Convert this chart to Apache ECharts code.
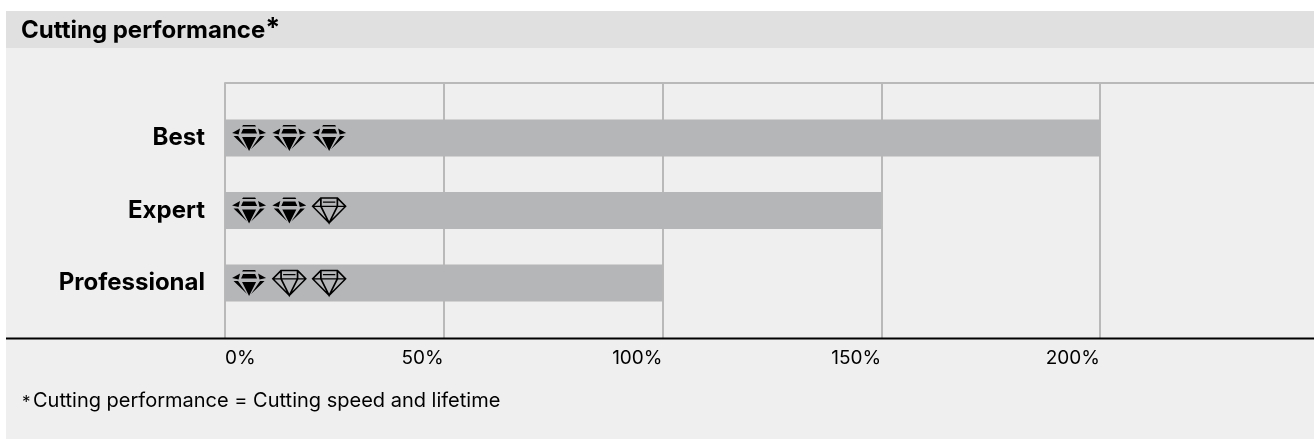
<!DOCTYPE html>
<html>
<head>
<meta charset="utf-8">
<style>html,body{margin:0;padding:0;background:#fff}#c{width:1314px;height:439px}</style>
<script src="https://cdn.jsdelivr.net/npm/echarts@6/dist/echarts.min.js"></script>
</head>
<body>
<div id="c"></div>
<script>
const categories = ['Best', 'Expert', 'Professional'];
const performance = [200, 150, 100];
const tickValues = [0, 50, 100, 150, 200];
const filledIcons = [[5.5, 'Best'], [14.7, 'Best'], [23.8, 'Best'], [5.5, 'Expert'], [14.7, 'Expert'], [5.5, 'Professional']];
const outlineIcons = [[23.8, 'Expert'], [14.7, 'Professional'], [23.8, 'Professional']];
const titleText = 'Cutting performance';
const footnoteText = 'Cutting performance = Cutting speed and lifetime';

const FONT = 'Inter, sans-serif';
const FILLED = 'path://M11 0L23 0L24 1.5L10 1.5Z M11 4L23 4L25 8.5L9 8.5Z M8 3.5L6.5 9.5L0 8Z M26 3.5L34 8L27.5 9.5Z M10 12L24 12L17 26Z M1.5 11L6 11L15 24Z M28 11L32.5 11L19 24Z';
const OUTLINE = 'path://M9 1L25 1L33 9L17 25L1 9Z M1 9L33 9 M11 5L23 5 M9 1L9 9L17 25L25 9L25 1';

const chart = echarts.init(document.getElementById('c'), null, {renderer: 'canvas'});
chart.setOption({
  animation: false,
  title: {
    left: 21, top: 15, padding: 0,
    text: '{t|' + titleText + '}{s|*}',
    textStyle: {
      rich: {
        t: {fontFamily: FONT, fontWeight: 700, fontSize: 24, color: '#000'},
        s: {fontFamily: FONT, fontWeight: 700, fontSize: 27, color: '#000', verticalAlign: 'top', padding: [0, 0, 5, 0]}
      }
    }
  },
  graphic: [
    {type: 'rect', silent: true, z: -10, shape: {x: 6, y: 48, width: 1308, height: 391}, style: {fill: '#efefef'}},
    {type: 'rect', silent: true, z: -10, shape: {x: 6, y: 11, width: 1308, height: 37}, style: {fill: '#e0e0e0'}},
    {type: 'line', silent: true, z: 10, shape: {x1: 6, y1: 338.5, x2: 1314, y2: 338.5}, style: {stroke: '#000', lineWidth: 2}},
    {type: 'text', silent: true, x: 22, y: 394, style: {text: '*', fontFamily: FONT, fontSize: 17, fill: '#000'}},
    {type: 'text', silent: true, x: 33, y: 391, style: {text: footnoteText, fontFamily: FONT, fontSize: 20, fill: '#000'}}
  ],
  grid: [
    {left: 225, top: 83, width: 1093.75, height: 255, outerBoundsMode: 'none'},
    {left: 225, top: 101.75, width: 1093.75, height: 217.5, outerBoundsMode: 'none'}
  ],
  xAxis: [
    {
      type: 'value', gridIndex: 0, position: 'bottom', min: 0, max: 250, interval: 50,
      axisLine: {show: false}, axisTick: {show: false},
      splitLine: {show: true, lineStyle: {color: '#b9b9b9', width: 2}},
      axisLabel: {
        customValues: tickValues, align: 'right', alignMinLabel: 'left', margin: 11,
        color: '#000', fontFamily: FONT, fontSize: 19,
        formatter: v => v + '%'
      }
    },
    {
      type: 'value', gridIndex: 1, min: 0, max: 250,
      axisLine: {show: false}, axisTick: {show: false}, axisLabel: {show: false}, splitLine: {show: false}
    },
    {
      type: 'value', gridIndex: 0, position: 'top', min: 0, max: 250,
      axisLine: {show: true, lineStyle: {color: '#b9b9b9', width: 2}},
      axisTick: {show: false}, axisLabel: {show: false}, splitLine: {show: false}
    }
  ],
  yAxis: [
    {type: 'value', gridIndex: 0, show: false, min: 0, max: 1, splitLine: {show: false}},
    {
      type: 'category', gridIndex: 1, data: categories, inverse: true,
      axisLine: {show: false}, axisTick: {show: false},
      axisLabel: {margin: 20, color: '#000', fontFamily: FONT, fontWeight: 700, fontSize: 24}
    }
  ],
  series: [
    {
      type: 'bar', xAxisIndex: 1, yAxisIndex: 1, data: performance, barWidth: 37, z: 3,
      itemStyle: {color: '#b5b6b8'}
    },
    {
      type: 'scatter', xAxisIndex: 1, yAxisIndex: 1, data: filledIcons, z: 5,
      symbol: FILLED, symbolSize: [34, 26], itemStyle: {color: '#000', opacity: 1}
    },
    {
      type: 'scatter', xAxisIndex: 1, yAxisIndex: 1, data: outlineIcons, z: 5,
      symbol: OUTLINE, symbolSize: [33, 25],
      itemStyle: {color: 'rgba(0,0,0,0)', borderColor: '#000', borderWidth: 1.5, opacity: 1}
    }
  ]
});
</script>
</body>
</html>
